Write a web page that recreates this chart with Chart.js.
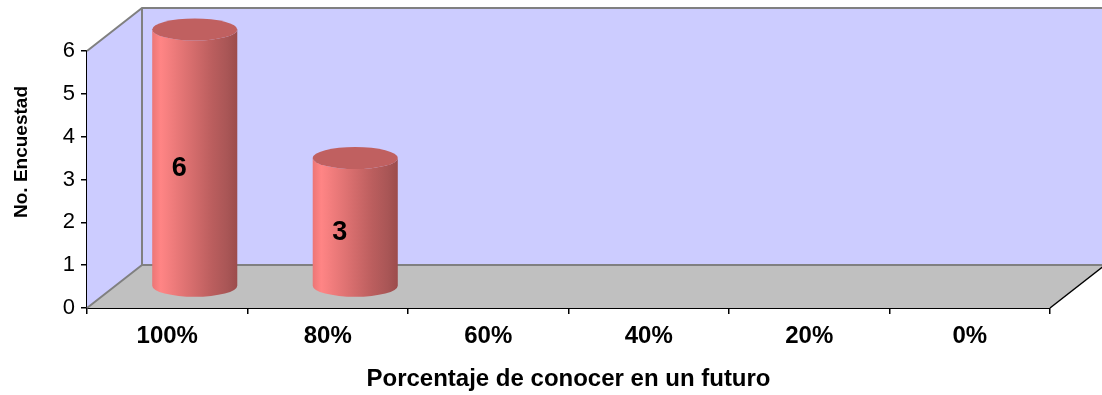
<!DOCTYPE html>
<html>
<head>
<meta charset="utf-8">
<script src="https://cdn.jsdelivr.net/npm/chart.js@4.4.1/dist/chart.umd.min.js"></script>
<style>
  html, body { margin: 0; padding: 0; background: #fff; }
  #wrap { width: 1102px; height: 395px; }
</style>
</head>
<body>
<div id="wrap"><canvas id="chart"></canvas></div>
<script>
// datos del gráfico
const categorias = ['100%', '80%', '60%', '40%', '20%', '0%'];
const encuestados = [6, 3, 0, 0, 0, 0];
const yTicks = [0, 1, 2, 3, 4, 5, 6];
const tituloX = 'Porcentaje de conocer en un futuro';
const tituloY = 'No. Encuestad';

const FONT = '"Liberation Sans", Arial, sans-serif';
const DX = 55, DY = 43; // profundidad 3D

// paredes y piso en perspectiva
const paredes = {
  id: 'paredes',
  beforeDatasetsDraw(chart) {
    const { ctx, chartArea: a } = chart;
    ctx.save();
    // pared del fondo
    ctx.fillStyle = '#CCCCFF';
    ctx.fillRect(a.left + DX, a.top - DY, a.right - a.left, a.bottom - a.top);
    // pared izquierda
    ctx.beginPath();
    ctx.moveTo(a.left, a.top);
    ctx.lineTo(a.left + DX, a.top - DY);
    ctx.lineTo(a.left + DX, a.bottom - DY);
    ctx.lineTo(a.left, a.bottom);
    ctx.closePath();
    ctx.fill();
    // piso
    ctx.fillStyle = '#C0C0C0';
    ctx.beginPath();
    ctx.moveTo(a.left, a.bottom);
    ctx.lineTo(a.left + DX, a.bottom - DY);
    ctx.lineTo(a.right + DX, a.bottom - DY);
    ctx.lineTo(a.right, a.bottom);
    ctx.closePath();
    ctx.fill();
    // bordes grises
    ctx.strokeStyle = '#808080';
    ctx.lineWidth = 2;
    ctx.beginPath();
    ctx.moveTo(a.left, a.top);
    ctx.lineTo(a.left + DX, a.top - DY);
    ctx.lineTo(a.right + DX + 5, a.top - DY);
    ctx.moveTo(a.left + DX, a.top - DY);
    ctx.lineTo(a.left + DX, a.bottom - DY);
    ctx.lineTo(a.right + DX + 5, a.bottom - DY);
    ctx.moveTo(a.left, a.bottom);
    ctx.lineTo(a.left + DX, a.bottom - DY);
    ctx.stroke();
    ctx.strokeStyle = '#000';
    ctx.lineWidth = 1.5;
    ctx.beginPath();
    ctx.moveTo(a.right, a.bottom);
    ctx.lineTo(a.right + DX, a.bottom - DY);
    ctx.stroke();
    ctx.restore();
  }
};

// cilindros y etiquetas
const cilindros = {
  id: 'cilindros',
  afterDatasetsDraw(chart) {
    const { ctx } = chart;
    const meta = chart.getDatasetMeta(0);
    const ry = 11;
    meta.data.forEach((el, i) => {
      const v = encuestados[i];
      if (!v) return;
      const cx = el.x + DX / 2;
      const rx = el.width / 2;
      const top = el.y - DY / 2;
      const base = el.base - DY / 2;
      const g = ctx.createLinearGradient(cx - rx, 0, cx + rx, 0);
      g.addColorStop(0, '#EC7676');
      g.addColorStop(0.1, '#FF8585');
      g.addColorStop(0.45, '#D86E6E');
      g.addColorStop(0.7, '#BB5E5E');
      g.addColorStop(0.88, '#A95656');
      g.addColorStop(1, '#9C4C4C');
      ctx.save();
      ctx.fillStyle = g;
      ctx.beginPath();
      ctx.moveTo(cx - rx, top);
      ctx.lineTo(cx - rx, base);
      ctx.ellipse(cx, base, rx, ry, 0, Math.PI, 0, true);
      ctx.lineTo(cx + rx, top);
      ctx.ellipse(cx, top, rx, ry, 0, 0, Math.PI, false);
      ctx.closePath();
      ctx.fill();
      ctx.fillStyle = '#C06060';
      ctx.beginPath();
      ctx.ellipse(cx, top, rx, ry, 0, 0, Math.PI * 2);
      ctx.fill();
      // etiqueta de valor
      ctx.fillStyle = '#000';
      ctx.font = 'bold 27px ' + FONT;
      ctx.textAlign = 'center';
      ctx.textBaseline = 'middle';
      ctx.fillText(String(v), el.x + 12, (el.y + el.base) / 2 - 11);
      ctx.restore();
    });
  },
  afterDraw(chart) {
    const { ctx, chartArea: a } = chart;
    ctx.save();
    ctx.translate(22, (a.top - DY + a.bottom) / 2 - 6);
    ctx.rotate(-Math.PI / 2);
    ctx.fillStyle = '#000';
    ctx.font = 'bold 19px ' + FONT;
    ctx.textAlign = 'center';
    ctx.textBaseline = 'middle';
    ctx.fillText(tituloY, 0, 0);
    ctx.restore();
  }
};

new Chart(document.getElementById('chart'), {
  type: 'bar',
  data: {
    labels: categorias,
    datasets: [{
      data: encuestados,
      backgroundColor: 'rgba(0,0,0,0)',
      borderWidth: 0,
      categoryPercentage: 1,
      barPercentage: 0.53
    }]
  },
  options: {
    responsive: true,
    maintainAspectRatio: false,
    animation: false,
    layout: { padding: { top: 51, right: 52, bottom: 0, left: 0 } },
    plugins: { legend: { display: false }, tooltip: { enabled: false } },
    scales: {
      x: {
        afterFit: s => { s.height = 87; },
        grid: { drawOnChartArea: false, tickLength: 6, color: '#000', lineWidth: 1.5 },
        border: { color: '#000', width: 2 },
        ticks: { color: '#000', padding: 8, font: { family: FONT, size: 24, weight: 'bold' } },
        title: {
          display: true, text: tituloX, color: '#000',
          padding: { top: 0, bottom: 1 },
          font: { family: FONT, size: 24, weight: 'bold' }
        }
      },
      y: {
        min: 0, max: 6,
        afterFit: s => { s.width = 87; },
        afterBuildTicks: s => { s.ticks = yTicks.map(v => ({ value: v })); },
        grid: { drawOnChartArea: false, tickLength: 6, color: '#000', lineWidth: 1.5 },
        border: { color: '#000', width: 2 },
        ticks: { color: '#000', padding: 6, font: { family: FONT, size: 22 } }
      }
    }
  },
  plugins: [paredes, cilindros]
});
</script>
</body>
</html>
